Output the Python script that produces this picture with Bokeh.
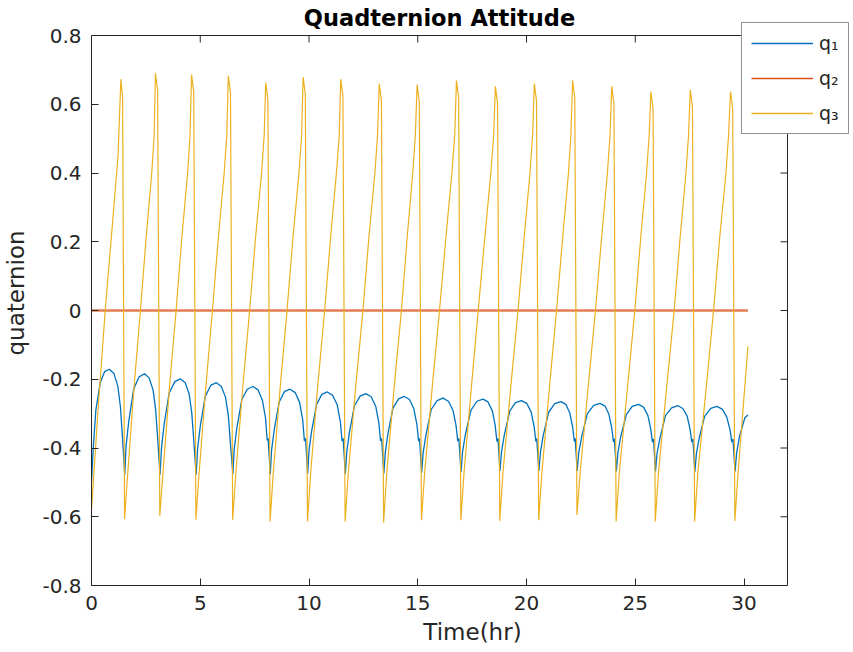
from bokeh.plotting import figure
from bokeh.models import Range1d, FixedTicker, Legend, LegendItem, BoxAnnotation, Label
from bokeh.embed import file_html
from bokeh.resources import INLINE

# ---------------- data ----------------
x_ticks = [0, 5, 10, 15, 20, 25, 30]
y_ticks = [-0.8, -0.6, -0.4, -0.2, 0.0, 0.2, 0.4, 0.6, 0.8]
y_tick_labels = ["-0.8", "-0.6", "-0.4", "-0.2", "0", "0.2", "0.4", "0.6", "0.8"]
x_limits = (0, 32)
y_limits = (-0.8, 0.8)

series_names = ["q\u2081", "q\u2082", "q\u2083"]
series_colors = ["#0072BD", "#D95319", "#EDB120"]

q1_t = [0, 0.08, 0.2, 0.4, 0.6, 0.82, 1.03, 1.21, 1.33, 1.42, 1.53,
        1.59, 1.71, 1.94, 2.19, 2.44, 2.65, 2.83, 2.95, 3.04, 3.15,
        3.22, 3.34, 3.57, 3.83, 4.09, 4.31, 4.49, 4.61, 4.70, 4.81,
        4.88, 5.00, 5.23, 5.48, 5.74, 5.97, 6.16, 6.29, 6.38, 6.50,
        6.56, 6.68, 6.91, 7.16, 7.42, 7.66, 7.86, 8.00, 8.08, 8.12, 8.22,
        8.28, 8.40, 8.63, 8.87, 9.12, 9.37, 9.57, 9.71, 9.79, 9.84, 9.94,
        10.00, 10.12, 10.35, 10.59, 10.84, 11.09, 11.30, 11.44, 11.52, 11.57, 11.67,
        11.74, 11.86, 12.09, 12.35, 12.61, 12.86, 13.07, 13.21, 13.29, 13.34, 13.44,
        13.51, 13.63, 13.86, 14.12, 14.38, 14.62, 14.82, 14.96, 15.04, 15.08, 15.18,
        15.25, 15.38, 15.62, 15.89, 16.16, 16.41, 16.62, 16.76, 16.84, 16.89, 16.99,
        17.06, 17.19, 17.45, 17.72, 18.00, 18.23, 18.43, 18.56, 18.64, 18.69, 18.78,
        18.85, 18.98, 19.23, 19.49, 19.77, 20.01, 20.21, 20.35, 20.43, 20.47, 20.57,
        20.64, 20.77, 21.02, 21.30, 21.58, 21.81, 21.99, 22.12, 22.20, 22.24, 22.33,
        22.40, 22.54, 22.80, 23.09, 23.38, 23.61, 23.79, 23.92, 24.00, 24.04, 24.13,
        24.20, 24.33, 24.59, 24.86, 25.15, 25.38, 25.58, 25.71, 25.79, 25.84, 25.93,
        26.00, 26.14, 26.39, 26.67, 26.96, 27.19, 27.39, 27.52, 27.60, 27.65, 27.74,
        27.81, 27.94, 28.19, 28.47, 28.75, 29.00, 29.21, 29.36, 29.44, 29.49, 29.59,
        29.66, 29.79, 30.04, 30.18]
q1_v = [-0.50, -0.40, -0.29, -0.21, -0.178, -0.171, -0.183, -0.220, -0.280, -0.366, -0.478,
        -0.394, -0.324, -0.228, -0.193, -0.184, -0.196, -0.231, -0.289, -0.370, -0.478,
        -0.398, -0.331, -0.240, -0.207, -0.199, -0.210, -0.243, -0.298, -0.376, -0.478,
        -0.401, -0.337, -0.250, -0.218, -0.210, -0.221, -0.252, -0.305, -0.380, -0.476,
        -0.404, -0.343, -0.259, -0.229, -0.221, -0.231, -0.262, -0.312, -0.378, -0.372, -0.476,
        -0.406, -0.347, -0.266, -0.236, -0.229, -0.239, -0.268, -0.318, -0.380, -0.372, -0.475,
        -0.408, -0.351, -0.273, -0.244, -0.237, -0.247, -0.275, -0.323, -0.380, -0.372, -0.475,
        -0.410, -0.354, -0.277, -0.249, -0.242, -0.251, -0.279, -0.326, -0.380, -0.372, -0.475,
        -0.412, -0.358, -0.284, -0.257, -0.250, -0.259, -0.286, -0.331, -0.380, -0.372, -0.472,
        -0.413, -0.361, -0.288, -0.262, -0.255, -0.264, -0.290, -0.334, -0.380, -0.372, -0.470,
        -0.411, -0.360, -0.290, -0.264, -0.258, -0.266, -0.292, -0.334, -0.381, -0.372, -0.467,
        -0.412, -0.362, -0.293, -0.268, -0.262, -0.270, -0.295, -0.337, -0.381, -0.372, -0.467,
        -0.413, -0.363, -0.296, -0.271, -0.265, -0.273, -0.298, -0.339, -0.381, -0.372, -0.467,
        -0.414, -0.366, -0.300, -0.276, -0.270, -0.278, -0.302, -0.342, -0.382, -0.373, -0.468,
        -0.415, -0.368, -0.303, -0.279, -0.273, -0.281, -0.305, -0.344, -0.383, -0.374, -0.468,
        -0.416, -0.370, -0.306, -0.283, -0.277, -0.285, -0.308, -0.346, -0.383, -0.374, -0.470,
        -0.417, -0.371, -0.308, -0.285, -0.279, -0.287, -0.310, -0.348, -0.383, -0.374, -0.468,
        -0.415, -0.367, -0.312, -0.304]

q2_t = [0, 30.18]
q2_v = [0.0, 0.0]

q3_t = [0, 0.30, 0.63, 1.00, 1.22, 1.35, 1.43,
        1.52, 1.67, 1.96, 2.25, 2.51, 2.77, 2.88, 2.94, 3.04,
        3.14, 3.29, 3.59, 3.89, 4.15, 4.42, 4.53, 4.60, 4.70,
        4.80, 4.95, 5.26, 5.56, 5.83, 6.10, 6.22, 6.29, 6.39,
        6.49, 6.64, 6.96, 7.27, 7.54, 7.82, 7.94, 8.01, 8.11,
        8.21, 8.36, 8.68, 8.99, 9.26, 9.54, 9.66, 9.73, 9.83,
        9.93, 10.08, 10.40, 10.72, 10.99, 11.26, 11.39, 11.46, 11.56,
        11.66, 11.81, 12.15, 12.48, 12.75, 13.03, 13.15, 13.23, 13.33,
        13.43, 13.58, 13.92, 14.25, 14.51, 14.77, 14.89, 14.97, 15.07,
        15.17, 15.32, 15.67, 16.00, 16.29, 16.57, 16.70, 16.78, 16.88,
        16.98, 17.13, 17.47, 17.78, 18.08, 18.36, 18.49, 18.57, 18.67,
        18.77, 18.92, 19.28, 19.61, 19.89, 20.16, 20.28, 20.36, 20.46,
        20.56, 20.71, 21.06, 21.38, 21.66, 21.93, 22.04, 22.12, 22.22,
        22.32, 22.47, 22.84, 23.17, 23.45, 23.72, 23.84, 23.92, 24.02,
        24.12, 24.27, 24.65, 24.98, 25.25, 25.52, 25.64, 25.72, 25.82,
        25.92, 26.07, 26.45, 26.79, 27.06, 27.33, 27.45, 27.53, 27.63,
        27.73, 27.88, 28.27, 28.60, 28.88, 29.17, 29.29, 29.38, 29.48,
        29.58, 29.73, 30.18]
q3_v = [-0.58, -0.29, 0.0, 0.28, 0.45, 0.673, 0.62,
        -0.607, -0.47, -0.22, 0.0, 0.21, 0.40, 0.51, 0.690, 0.640,
        -0.597, -0.47, -0.22, 0.0, 0.21, 0.40, 0.51, 0.686, 0.636,
        -0.609, -0.47, -0.22, 0.0, 0.21, 0.40, 0.51, 0.683, 0.633,
        -0.609, -0.47, -0.22, 0.0, 0.21, 0.40, 0.51, 0.663, 0.613,
        -0.614, -0.47, -0.22, 0.0, 0.21, 0.40, 0.51, 0.679, 0.629,
        -0.614, -0.47, -0.22, 0.0, 0.21, 0.40, 0.51, 0.673, 0.623,
        -0.614, -0.47, -0.22, 0.0, 0.21, 0.40, 0.51, 0.660, 0.610,
        -0.617, -0.47, -0.22, 0.0, 0.21, 0.40, 0.51, 0.657, 0.607,
        -0.610, -0.47, -0.22, 0.0, 0.21, 0.40, 0.51, 0.669, 0.619,
        -0.610, -0.47, -0.22, 0.0, 0.21, 0.40, 0.51, 0.652, 0.602,
        -0.612, -0.47, -0.22, 0.0, 0.21, 0.40, 0.51, 0.660, 0.610,
        -0.610, -0.47, -0.22, 0.0, 0.21, 0.40, 0.51, 0.669, 0.619,
        -0.595, -0.47, -0.22, 0.0, 0.21, 0.40, 0.51, 0.652, 0.602,
        -0.614, -0.47, -0.22, 0.0, 0.21, 0.40, 0.51, 0.637, 0.587,
        -0.614, -0.47, -0.22, 0.0, 0.21, 0.40, 0.51, 0.642, 0.592,
        -0.614, -0.47, -0.22, 0.0, 0.21, 0.40, 0.51, 0.637, 0.587,
        -0.612, -0.47, -0.105]

# ---------------- layout (pixels) ----------------
W, H = 853, 652
BOX_L, BOX_R, BOX_T, BOX_B = 91, 787, 35, 585   # axes box in the picture
FRAME_T = 0                                     # frame reaches the top so the legend can overlap it
TICK = 7

AX = "#262626"
FONT = "DejaVu Sans"

x_per_px = (x_limits[1] - x_limits[0]) / (BOX_R - BOX_L)
y_per_px = (y_limits[1] - y_limits[0]) / (BOX_B - BOX_T)
x_end = x_limits[0] + (W - BOX_L) * x_per_px
y_end = y_limits[0] + (BOX_B - FRAME_T) * y_per_px

p = figure(width=W, height=H, output_backend="svg", toolbar_location=None,
           x_range=Range1d(x_limits[0], x_end), y_range=Range1d(y_limits[0], y_end),
           min_border_left=BOX_L, min_border_right=0, min_border_top=FRAME_T,
           min_border_bottom=H - BOX_B,
           background_fill_color="white", border_fill_color="white")
p.grid.visible = False
p.outline_line_color = None

xa = p.xaxis[0]
ya = p.yaxis[0]
xa.ticker = FixedTicker(ticks=x_ticks)
ya.ticker = FixedTicker(ticks=y_ticks)
xa.bounds = x_limits
ya.bounds = y_limits
ya.major_label_overrides = {t: s for t, s in zip(y_ticks, y_tick_labels)}
xa.axis_label = "Time(hr)"
ya.axis_label = "quaternion"
for ax in (xa, ya):
    ax.axis_line_color = AX
    ax.major_tick_line_color = AX
    ax.major_tick_in = TICK
    ax.major_tick_out = 0
    ax.minor_tick_line_color = None
    ax.major_label_text_font = FONT
    ax.major_label_text_font_size = "20px"
    ax.major_label_text_color = AX
    ax.axis_label_text_font = FONT
    ax.axis_label_text_font_size = "23px"
    ax.axis_label_text_font_style = "normal"
    ax.axis_label_text_color = AX
xa.major_label_standoff = 10
xa.axis_label_standoff = 6
ya.major_label_standoff = 10
ya.axis_label_standoff = 10

# box (top and right sides) and the inward ticks on those sides, under the curves
p.add_layout(BoxAnnotation(left=x_limits[0], right=x_limits[1], bottom=y_limits[0], top=y_limits[1],
                           fill_alpha=0, line_color=AX, line_width=1, line_alpha=1,
                           level="underlay"))
p.segment(x0=x_ticks, x1=x_ticks, y0=[y_limits[1]] * len(x_ticks),
          y1=[y_limits[1] - TICK * y_per_px] * len(x_ticks), line_color=AX, line_width=1)
p.segment(x0=[x_limits[1]] * len(y_ticks), x1=[x_limits[1] - TICK * x_per_px] * len(y_ticks),
          y0=y_ticks, y1=y_ticks, line_color=AX, line_width=1)

r1 = p.line(q1_t, q1_v, line_color=series_colors[0], line_width=1.3)
r2 = p.line(q2_t, q2_v, line_color=series_colors[1], line_width=2.5, line_alpha=0.75)
r3 = p.line(q3_t, q3_v, line_color=series_colors[2], line_width=1.2)

# legend keys drawn as thin lines, as in the reference (single-point lines: nothing shows in the plot)
k1 = p.line(q1_t[:1], q1_v[:1], line_color=series_colors[0], line_width=1.5)
k2 = p.line(q2_t[:1], q2_v[:1], line_color=series_colors[1], line_width=1.5)
k3 = p.line(q3_t[:1], q3_v[:1], line_color=series_colors[2], line_width=1.5)

# title, centred over the axes box
p.add_layout(Label(x=(x_limits[0] + x_limits[1]) / 2, y=y_limits[1], y_offset=18,
                   text="Quadternion Attitude", text_align="center", text_baseline="middle",
                   text_font=FONT, text_font_size="22.5px", text_font_style="bold",
                   text_color="black"))

legend = Legend(items=[LegendItem(label=series_names[0], renderers=[k1]),
                       LegendItem(label=series_names[1], renderers=[k2]),
                       LegendItem(label=series_names[2], renderers=[k3])],
                location=(741 - BOX_L, BOX_B - 134), orientation="vertical",
                level="overlay")
legend.label_text_font = FONT
legend.label_text_font_size = "19px"
legend.label_text_color = AX
legend.border_line_color = AX
legend.border_line_width = 1
legend.background_fill_color = "white"
legend.background_fill_alpha = 1
legend.glyph_width = 62
legend.glyph_height = 20
legend.label_standoff = 6
legend.label_height = 20
legend.spacing = 13
legend.padding = 9
legend.margin = 0
p.add_layout(legend, "center")

open("out.html", "w").write(file_html(p, INLINE))
